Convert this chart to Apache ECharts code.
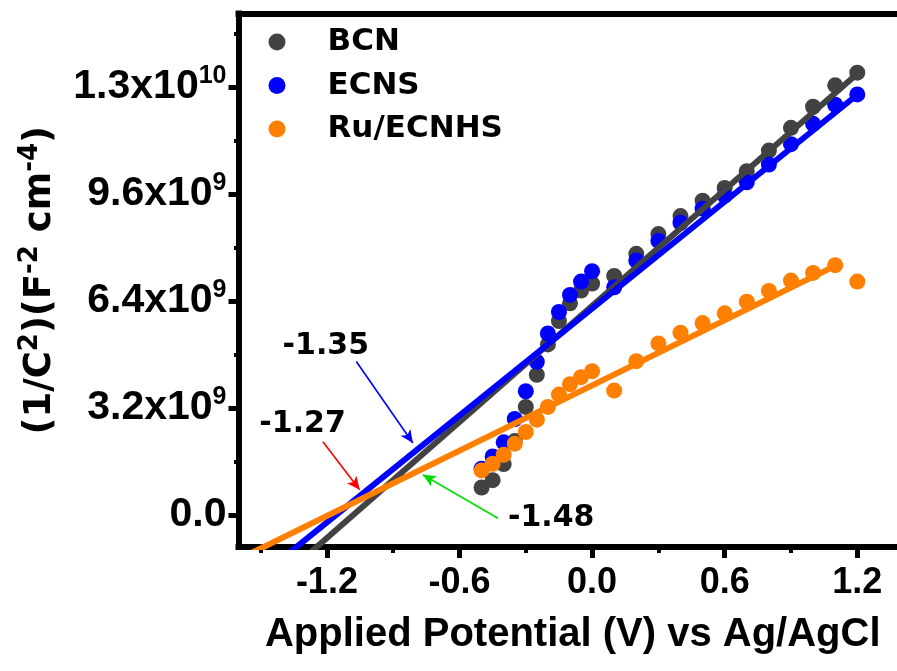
<!DOCTYPE html>
<html>
<head>
<meta charset="utf-8">
<script src="https://cdn.jsdelivr.net/npm/echarts@6/dist/echarts.min.js"></script>
<style>
  html, body { margin: 0; padding: 0; background: #fff; overflow: hidden; }
  #chart { width: 897px; height: 671px; overflow: hidden; }
</style>
</head>
<body>
<div id="chart"></div>
<script>
// Mott–Schottky plot: applied potential (V vs Ag/AgCl) against 1/C^2 (in units of 10^9 F^-2 cm^-4)
const potential = [-0.5, -0.45, -0.4, -0.35, -0.3, -0.25, -0.2, -0.15, -0.1, -0.05, 0,
                   0.1, 0.2, 0.3, 0.4, 0.5, 0.6, 0.7, 0.8, 0.9, 1.0, 1.1, 1.2];
const bcn     = [0.82, 1.04, 1.52, 2.21, 3.23, 4.19, 5.10, 5.80, 6.33, 6.71, 6.92,
                 7.15, 7.81, 8.40, 8.94, 9.40, 9.78, 10.28, 10.90, 11.58, 12.21, 12.85, 13.23];
const ecns    = [1.38, 1.75, 2.17, 2.87, 3.70, 4.58, 5.43, 6.07, 6.58, 6.98, 7.29,
                 6.81, 7.61, 8.20, 8.74, 9.16, 9.55, 9.95, 10.48, 11.09, 11.70, 12.27, 12.58];
const ruEcnhs = [1.33, 1.53, 1.80, 2.13, 2.48, 2.85, 3.23, 3.60, 3.91, 4.12, 4.30,
                 3.72, 4.60, 5.13, 5.45, 5.74, 6.03, 6.38, 6.70, 7.01, 7.24, 7.47, 6.98];

// linear fits (end points: potential, 1/C^2)
const bcnFit = [[-1.30, -1.27], [1.20, 13.20]];
const ecnsFit = [[-1.40, -1.29], [1.20, 12.57]];
const ruFit = [[-1.60, -1.33], [1.10, 7.45]];

// flat-band potential annotations
const fbTexts = ['-1.35', '-1.27', '-1.48'];
const fbTextAt = [[-1.205, 5.05], [-1.310, 2.72], [-0.185, -0.10]];
const fbArrowFrom = [[-1.067, 4.59], [-1.218, 2.19], [-0.426, -0.10]];
const fbArrowTo = [[-0.811, 2.15], [-1.052, 0.75], [-0.766, 1.20]];

// axis ticks
const xMajor = [-1.2, -0.6, 0, 0.6, 1.2];
const xMinor = [-1.5, -0.9, -0.3, 0.3, 0.9];
const yMajor = [0, 3.2, 6.4, 9.6, 12.8];
const yMinor = [1.6, 4.8, 8.0, 11.2, 14.4];
const yMantissa = ['0.0', '3.2', '6.4', '9.6', '1.3'];
const yExponent = ['', '9', '9', '9', '10'];

const seriesNames = ['BCN', 'ECNS', 'Ru/ECNHS'];
const colors = ['#424242', '#0000ff', '#ff8000'];
const arrowColors = ['#0000ff', '#ff0000', '#00e000'];

const ARIAL = '"Liberation Sans", Arial, sans-serif';
const WIDE = '"DejaVu Sans", sans-serif';

const X_RANGE = { min: -1.6, max: 1.425 };
const Y_RANGE = { min: -0.96, max: 15.0 };
const PLOT_BOX = { left: 238.5, top: 13.5, right: -10, bottom: 124,
                   outerBoundsMode: 'none', containLabel: false, show: false };

const pairs = (xs, ys) => xs.map((x, i) => [x, ys[i]]);

const chart = echarts.init(document.getElementById('chart'), null, { renderer: 'canvas' });

const scatter = (name, ys, color, z) => ({
  name, type: 'scatter', data: pairs(potential, ys),
  symbol: 'circle', symbolSize: 16,
  itemStyle: { color, opacity: 1 }, z
});
const fit = (data, color, z) => ({
  type: 'line', data, showSymbol: false, symbol: 'none',
  lineStyle: { color, width: 6 }, z, silent: true
});

const yLabel = (v) => {
  const i = yMajor.findIndex(t => Math.abs(t - v) < 1e-6);
  if (i < 0) return '';
  return yExponent[i] ? `{m|${yMantissa[i]}x10}{s|${yExponent[i]}}` : `{m|${yMantissa[i]}}`;
};

const frameLine = { show: true, onZero: false, lineStyle: { color: '#000', width: 6, cap: 'square' } };
const hidden = { axisLabel: { show: false }, splitLine: { show: false } };

const option = {
  animation: false,
  backgroundColor: '#fff',
  // grid 0 holds the data; grid 1 (same box) carries minor ticks and the top frame edge
  grid: [PLOT_BOX, PLOT_BOX],
  legend: {
    data: seriesNames,
    orient: 'vertical',
    left: 268.5, top: 26, padding: 0,
    icon: 'circle', itemWidth: 17, itemHeight: 17, itemGap: 11.5,
    textStyle: { fontFamily: WIDE, fontWeight: 'bold', fontSize: 31, color: '#000',
                 lineHeight: 32, padding: [0, 0, 0, 37] }
  },
  xAxis: [{
    gridIndex: 0, type: 'value', ...X_RANGE, position: 'bottom',
    axisLine: frameLine,
    axisTick: { show: true, inside: false, length: 11, customValues: xMajor,
                lineStyle: { color: '#000', width: 5 } },
    axisLabel: { customValues: xMajor, formatter: v => v.toFixed(1), margin: 18,
                 fontFamily: ARIAL, fontWeight: 'bold', fontSize: 36, color: '#000' },
    splitLine: { show: false },
    name: 'Applied Potential (V) vs Ag/AgCl', nameLocation: 'middle', nameGap: 68,
    nameTextStyle: { fontFamily: ARIAL, fontWeight: 'bold', fontSize: 40, color: '#000' }
  }, {
    gridIndex: 1, type: 'value', ...X_RANGE, position: 'bottom',
    axisLine: { show: false, onZero: false },
    axisTick: { show: true, inside: false, length: 6, customValues: xMinor,
                lineStyle: { color: '#000', width: 4 } },
    ...hidden
  }, {
    gridIndex: 1, type: 'value', ...X_RANGE, position: 'top',
    axisLine: frameLine, axisTick: { show: false }, ...hidden
  }],
  yAxis: [{
    gridIndex: 0, type: 'value', ...Y_RANGE, position: 'left',
    axisLine: frameLine,
    axisTick: { show: true, inside: false, length: 10, customValues: yMajor,
                lineStyle: { color: '#000', width: 5 } },
    axisLabel: {
      customValues: yMajor, formatter: yLabel, margin: 12,
      rich: {
        m: { fontFamily: ARIAL, fontWeight: 'bold', fontSize: 41, color: '#000', lineHeight: 46 },
        s: { fontFamily: ARIAL, fontWeight: 'bold', fontSize: 25, color: '#000', lineHeight: 25, verticalAlign: 'top' }
      }
    },
    splitLine: { show: false },
    name: '{a|(1/C}{s|2}{a|)(F}{s|-2}{a| cm}{s|-4}{a|)}',
    nameLocation: 'middle', nameRotate: 90, nameGap: 175,
    nameTextStyle: {
      rich: {
        a: { fontFamily: WIDE, fontWeight: 'bold', fontSize: 37, color: '#000', lineHeight: 46 },
        s: { fontFamily: WIDE, fontWeight: 'bold', fontSize: 26, color: '#000', lineHeight: 26, verticalAlign: 'top' }
      }
    }
  }, {
    gridIndex: 1, type: 'value', ...Y_RANGE, position: 'left',
    axisLine: { show: false, onZero: false },
    axisTick: { show: true, inside: false, length: 4.5, customValues: yMinor,
                lineStyle: { color: '#000', width: 4 } },
    ...hidden
  }],
  series: [
    scatter(seriesNames[0], bcn, colors[0], 2),
    scatter(seriesNames[1], ecns, colors[1], 3),
    scatter(seriesNames[2], ruEcnhs, colors[2], 4),
    fit(bcnFit, colors[0], 5),
    fit(ecnsFit, colors[1], 6),
    fit(ruFit, colors[2], 7),
    {
      name: 'annotations', type: 'line', data: [], z: 8, silent: true,
      markLine: {
        silent: true, symbol: ['none', 'arrow'], symbolSize: [9, 13],
        label: { show: false },
        data: fbArrowFrom.map((from, i) => [
          { coord: from, lineStyle: { color: arrowColors[i], width: 1.6, type: 'solid' },
            itemStyle: { color: arrowColors[i] } },
          { coord: fbArrowTo[i] }
        ])
      },
      markPoint: {
        silent: true, symbol: 'rect', symbolSize: 1,
        itemStyle: { color: 'rgba(0,0,0,0)' },
        label: { show: true, position: 'inside', fontFamily: WIDE, fontWeight: 'bold',
                 fontSize: 30, color: '#000' },
        data: fbTexts.map((t, i) => ({ coord: fbTextAt[i], value: t, label: { formatter: t } }))
      }
    }
  ]
};

chart.setOption(option);
</script>
</body>
</html>
